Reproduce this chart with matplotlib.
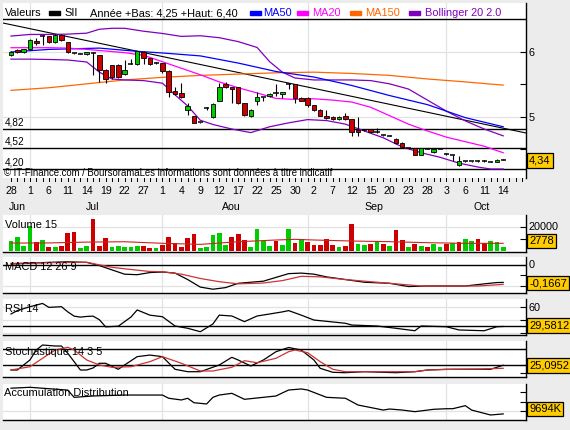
import numpy as np
import pandas as pd
import matplotlib
matplotlib.use("Agg")
import matplotlib.pyplot as plt
from matplotlib.patches import Rectangle
from matplotlib.transforms import IdentityTransform, blended_transform_factory

plt.rcParams['font.family'] = ['Liberation Sans', 'DejaVu Sans']

# ---------------- data ----------------
dates = pd.bdate_range('2011-06-28', '2011-10-14')

opn = [5.95, 6.03, 6.00, 6.04, 6.17, 6.25, 6.245, 6.15, 6.26, 6.15,
       5.98, 5.975, 5.965, 5.98, 5.95, 5.73, 5.795, 5.795, 5.66, 5.81,
       5.81, 6.005, 5.90, 5.83, 5.825, 5.71, 5.40, 5.37, 5.10, 5.015,
       4.92, 5.14, 5.005, 5.25, 5.51, 5.455, 5.455, 5.21, 5.015, 5.24,
       5.30, 5.32, 5.365, 5.35, 5.51, 5.50, 5.29, 5.29, 5.185, 5.11,
       5.015, 5.005, 4.965, 5.015, 4.965, 4.80, 4.80, 4.815, 4.765, 4.72,
       4.71, 4.66, 4.605, 4.52, 4.52, 4.415, 4.505, 4.455, 4.505, 4.43,
       4.415, 4.26, 4.32, 4.32, 4.32, 4.32, 4.31, 4.31, 4.345]
high = [6.01, 6.04, 6.05, 6.20, 6.21, 6.26, 6.25, 6.27, 6.27, 6.15,
        5.99, 5.98, 6.00, 6.00, 5.96, 5.74, 5.80, 5.82, 5.88, 5.89,
        6.02, 6.01, 5.91, 5.84, 5.83, 5.72, 5.46, 5.52, 5.21, 5.02,
        4.93, 5.15, 5.21, 5.52, 5.54, 5.46, 5.46, 5.22, 5.12, 5.39,
        5.31, 5.37, 5.50, 5.39, 5.52, 5.51, 5.30, 5.30, 5.19, 5.12,
        5.11, 5.01, 5.01, 5.06, 4.97, 4.995, 4.81, 4.82, 4.83, 4.73,
        4.72, 4.67, 4.61, 4.53, 4.53, 4.53, 4.51, 4.51, 4.51, 4.45,
        4.42, 4.40, 4.33, 4.33, 4.34, 4.34, 4.32, 4.35, 4.36]
low = [5.94, 5.98, 5.99, 6.03, 6.11, 6.11, 6.14, 6.14, 6.17, 5.99,
       5.97, 5.965, 5.96, 5.64, 5.54, 5.52, 5.59, 5.60, 5.65, 5.81,
       5.80, 5.81, 5.80, 5.82, 5.68, 5.31, 5.34, 5.29, 5.03, 4.90,
       4.91, 5.10, 4.98, 5.24, 5.44, 5.215, 5.20, 5.02, 5.00, 5.185,
       5.25, 5.31, 5.32, 5.29, 5.43, 5.22, 5.24, 5.16, 5.09, 5.01,
       4.97, 4.96, 4.96, 4.96, 4.71, 4.71, 4.78, 4.76, 4.76, 4.71,
       4.70, 4.59, 4.53, 4.51, 4.41, 4.41, 4.50, 4.45, 4.50, 4.42,
       4.33, 4.25, 4.31, 4.31, 4.30, 4.30, 4.30, 4.30, 4.34]
close = [6.00, 6.00, 6.04, 6.18, 6.14, 6.25, 6.15, 6.26, 6.185, 5.995,
         5.98, 5.97, 5.995, 5.98, 5.73, 5.59, 5.61, 5.61, 5.73, 5.81,
         6.015, 5.90, 5.81, 5.83, 5.70, 5.39, 5.35, 5.30, 5.17, 4.90,
         4.92, 5.14, 5.20, 5.455, 5.455, 5.425, 5.21, 5.03, 5.11, 5.30,
         5.30, 5.36, 5.365, 5.38, 5.51, 5.29, 5.25, 5.185, 5.10, 5.015,
         4.98, 4.965, 5.005, 4.965, 4.765, 4.765, 4.79, 4.765, 4.765, 4.72,
         4.71, 4.605, 4.545, 4.52, 4.415, 4.52, 4.505, 4.505, 4.505, 4.43,
         4.415, 4.32, 4.32, 4.32, 4.32, 4.32, 4.31, 4.34, 4.34]

# moving averages / bands read at sample positions (trading-day index)
ma150_i = [0, 6, 12, 18, 24, 30, 36, 42, 48, 54, 60, 66, 72, 78]
ma150_v = [5.41, 5.45, 5.51, 5.57, 5.61, 5.64, 5.66, 5.68, 5.69, 5.67, 5.64, 5.585, 5.54, 5.49]
ma50_i = [0, 6, 12, 14, 20, 24, 30, 36, 42, 48, 54, 60, 66, 72, 78]
ma50_v = [6.00, 6.04, 6.055, 6.06, 6.01, 5.985, 5.94, 5.83, 5.70, 5.615, 5.485, 5.33, 5.19, 4.99, 4.85]
ma20_i = [0, 3, 6, 9, 12, 15, 18, 21, 24, 27, 30, 33, 36, 39, 42, 45, 48, 51, 54,
          57, 60, 63, 66, 69, 72, 75, 78]
ma20_v = [6.066, 6.066, 6.066, 6.06, 6.04, 6.015, 5.99, 5.95, 5.85, 5.75, 5.65, 5.54, 5.45,
          5.37, 5.285, 5.27, 5.28, 5.26, 5.23, 5.15, 5.02, 4.89, 4.785, 4.69, 4.62, 4.55, 4.45]
bb_up_i = [0, 3, 6, 9, 12, 14, 16, 18, 21, 24, 27, 30, 33, 36, 39, 41, 43, 45, 48,
           51, 54, 57, 60, 63, 66, 69, 72, 75, 78]
bb_up_v = [6.245, 6.27, 6.27, 6.275, 6.29, 6.35, 6.365, 6.365, 6.32, 6.285, 6.24, 6.25,
           6.22, 6.16, 6.07, 5.85, 5.69, 5.60, 5.57, 5.57, 5.57, 5.56, 5.51, 5.43, 5.26,
           5.09, 4.94, 4.815, 4.71]
bb_lo_i = [0, 3, 6, 9, 12, 14, 16, 18, 21, 24, 26, 28, 30, 32, 35, 38, 41, 44, 47,
           50, 53, 56, 59, 62, 65, 68, 71, 74, 76, 78]
bb_lo_v = [5.89, 5.89, 5.885, 5.877, 5.846, 5.69, 5.585, 5.57, 5.56, 5.52, 5.34, 5.17,
           4.95, 4.885, 4.815, 4.76, 4.85, 4.91, 4.96, 4.945, 4.89, 4.785, 4.68, 4.54,
           4.45, 4.38, 4.29, 4.23, 4.20, 4.20]
trend_i = [-1.27, 81.62]
trend_v = [6.446, 4.754]
levels = [4.82, 4.52, 4.20]
level_labels = ['4,82', '4,52', '4,20']

vol_k = [7.9, 11.5, 3.75, 20.7, 7.36, 8.75, 3.19, 3.19, 4.03, 14.86,
         15.4, 2.36, 3.75, 26.25, 3.75, 10.42, 2.92, 3.75, 2.92, 2.92,
         3.75, 3.75, 2.08, 2.08, 4.58, 11.5, 6.0, 3.19, 10.42, 13.75,
         2.08, 2.92, 12.9, 14.6, 4.58, 11.25, 13.75, 8.75, 3.19, 17.9,
         8.19, 3.75, 8.19, 4.58, 17.9, 6.53, 9.3, 7.36, 4.86, 4.86,
         9.58, 4.86, 2.92, 3.75, 22.1, 5.69, 4.86, 5.69, 7.92, 5.69,
         3.75, 17.1, 8.75, 2.92, 5.69, 3.75, 2.92, 5.69, 2.92, 5.14,
         6.25, 7.08, 9.58, 7.92, 9.58, 6.25, 7.92, 7.08, 2.778]
vol_up = "gggg rgrgrrrggrrrgggggrrgrrrrrrgggggrrrggggrgg rgrrrrrgrrggrgrgrrgrgrggrgrggrrggg".replace(" ", "")
volma_i = [0, 6, 12, 18, 24, 30, 36, 42, 45, 48, 54, 60, 66, 72, 78]
volma_k = [6.2, 6.3, 7.0, 7.3, 6.0, 5.1, 7.3, 8.75, 9.3, 8.75, 7.9, 7.36, 6.5, 5.97, 5.97]

macd_i = [0, 4, 6, 9, 12, 14, 16, 18, 20, 22, 24, 26, 28, 30, 32, 34, 36, 38, 40, 42,
          44, 46, 48, 50, 53, 56, 60, 63, 66, 69, 72, 75, 77, 78]
macd_v = [0.005, 0.015, 0.02, 0.025, 0.02, -0.01, -0.05, -0.09, -0.095, -0.075, -0.07,
          -0.08, -0.14, -0.21, -0.23, -0.215, -0.175, -0.165, -0.155, -0.12, -0.085,
          -0.08, -0.09, -0.115, -0.14, -0.165, -0.175, -0.205, -0.2, -0.2, -0.2, -0.18,
          -0.168, -0.1667]
sig_i = [0, 6, 12, 16, 18, 22, 24, 27, 30, 33, 36, 40, 43, 46, 49, 53, 57, 61, 65, 70, 74, 78]
sig_v = [0.01, 0.017, 0.02, -0.026, -0.04, -0.065, -0.067, -0.09, -0.13, -0.16, -0.18,
         -0.172, -0.15, -0.11, -0.115, -0.14, -0.16, -0.18, -0.2, -0.2, -0.2, -0.185]

rsi_i = [0, 1, 3, 5, 6, 8, 9, 10, 11, 12, 13, 14, 15, 17, 19, 20, 22, 24, 26, 28, 30,
         32, 33, 35, 37, 39, 41, 43, 44, 46, 48, 53, 54, 58, 61, 64, 65, 69, 71, 75, 77, 78]
rsi_v = [48.8, 54, 60, 65, 59, 60, 52, 45.5, 44, 45, 45.5, 40, 29, 30, 44, 55, 47, 44.6,
         30.3, 26.8, 21.5, 33.4, 47, 45.7, 37, 45.7, 48.8, 52, 54, 47, 39.5, 34.5, 31.8,
         30.3, 26.8, 23, 30.3, 29.2, 24.2, 23, 29.2, 29.58]

stk_i = [0, 1, 3, 4, 5, 7, 8, 9, 11, 12, 13, 14, 15, 17, 18, 20, 22, 24, 26, 28, 30,
         33, 35, 36, 38, 40, 42, 44, 46, 48, 49, 51, 53, 56, 61, 64, 66, 69, 74, 76, 78]
stk_v = [10.3, 10.3, 41.6, 72.8, 88.4, 85.3, 85.3, 62.5, 10.3, 10.3, 16.6, 31.3, 31.3,
         12.5, 26, 52, 57, 52, 12.5, 5, 5, 26, 50, 41.6, 22.8, 41.6, 67.5, 80.6, 72.8,
         41.6, 15.6, 3.1, 1.9, 5, 1.9, 5, 10.3, 12.5, 12.5, 12.5, 25.1]
std_i = [0, 3, 5, 7, 9, 10, 12, 14, 16, 19, 22, 24, 27, 30, 32, 35, 37, 39, 42, 44, 45,
         47, 49, 51, 53, 58, 64, 66, 70, 74, 78]
std_v = [10.3, 20.6, 46.9, 72.8, 81.3, 72.8, 41.6, 26, 18.8, 20.6, 36.3, 52, 31.3, 7.2,
         7.2, 18.8, 39.4, 33, 46.9, 67.5, 72.8, 64.4, 36.3, 12.5, 5, 5, 5, 10.3, 12.5,
         13.4, 15.6]

ad_i = [0, 3, 9, 10, 13, 18, 24, 25, 27, 28, 29, 31, 32, 33, 35, 37, 40, 42, 43, 44,
        46, 47, 50, 53, 55, 59, 60, 62, 64, 67, 69, 70, 72, 73, 76, 78]
ad_k = [12400, 12495, 12200, 11440, 11580, 11680, 11680, 11340, 11160, 11340, 10870,
        10740, 11440, 11680, 11860, 11230, 11440, 11580, 11900, 12210, 12320, 12210,
        11440, 11340, 10630, 10100, 10210, 10100, 9930, 10180, 10240, 10240, 10560,
        10100, 9580, 9694]

# ---------------- layout ----------------
W, H = 570, 430
fig = plt.figure(figsize=(W / 100, H / 100), dpi=100)
fig.patch.set_facecolor('#ececec')
ID = IdentityTransform()

XL, XR = 3, 526
def px_axes(y0, y1, x0=XL, x1=XR):
    return fig.add_axes([x0 / W, 1 - y1 / H, (x1 - x0) / W, (y1 - y0) / H])

xlim = ((XL - 11) / 6.31, (XR - 11) / 6.31)
n = len(dates)
idx = np.arange(n)
GRID = '#e2e2e2'
month_start = [i for i in range(1, n) if dates[i].month != dates[i - 1].month]

def style(ax, ylim):
    ax.set_xlim(*xlim)
    ax.set_ylim(*ylim)
    ax.set_facecolor('white')
    for s in ['left', 'top']:
        ax.spines[s].set_visible(False)
    ax.spines['right'].set_linewidth(1.0)
    ax.spines['bottom'].set_linewidth(1.0)
    ax.yaxis.tick_right()
    ax.tick_params(axis='y', direction='in', length=4, width=0.8, pad=2, labelsize=7.8)
    ax.set_xticks([])
    for m in month_start:
        ax.axvline(m, color=GRID, lw=0.9, zorder=0)

def fpx(x, y, s, **kw):
    fig.text(x / W, 1 - y / H, s, **kw)

def vbox(x, y, s):
    fpx(x, y, s, fontsize=8, va='center', ha='left',
        bbox=dict(boxstyle='square,pad=0.22', fc='#ffcc00', ec='black', lw=0.9), zorder=10)

# ---- main price panel ----
ax = px_axes(3, 178)
pmin, pmax = 5 - (178 - 117) / 65, 5 + (117 - 3) / 65
style(ax, (pmin, pmax))
ax.spines['bottom'].set_visible(False)
ax.set_yticks([4.5, 5, 5.5, 6])
ax.set_yticklabels(['', '5', '', '6'])
for g in [5, 6]:
    ax.axhline(g, color=GRID, lw=0.9, zorder=0)
ax.axhline(5 + (117 - 19.5) / 65, color='black', lw=1.0)
for lv in levels:
    ax.axhline(lv, color='black', lw=1.0, zorder=2)

ax.plot(trend_i, trend_v, color='black', lw=0.8, zorder=2)
ax.plot(ma150_i, ma150_v, color='#ff6600', lw=0.9, zorder=2)
ax.plot(bb_up_i, bb_up_v, color='#8000c0', lw=0.9, zorder=2)
ax.plot(bb_lo_i, bb_lo_v, color='#8000c0', lw=0.9, zorder=2)
ax.plot(ma50_i, ma50_v, color='#0000ff', lw=0.9, zorder=2)
ax.plot(ma20_i, ma20_v, color='#ff00ff', lw=0.9, zorder=2)

for i, (o, h, l, c) in enumerate(zip(opn, high, low, close)):
    ax.vlines(i, l, h, color='black', lw=0.8, zorder=3)
    if abs(c - o) < 0.012:
        ax.hlines((o + c) / 2, i - 0.4, i + 0.4, color='black', lw=1.1, zorder=4)
    else:
        col = '#00cc00' if c > o else '#cc0000'
        ax.add_patch(Rectangle((i - 0.36, min(o, c)), 0.72, abs(c - o), fc=col,
                               ec='black', lw=0.6, zorder=4))

# bottom per-day ticks
tr = blended_transform_factory(ax.transData, ID)
for i in range(0, 82):
    ax.plot([i, i], [H - 178, H - 180.5], color='black', lw=0.7, transform=tr, clip_on=False)

# header
hy = 13
HF = 7.9
fpx(5, hy, 'Valeurs', fontsize=HF, va='center')
def legrect(x, col):
    fig.add_artist(Rectangle((x, H - hy - 2), 11, 4, color=col, transform=ID))
legrect(49, 'black'); fpx(64, hy, 'SII', fontsize=HF, va='center')
fpx(90, hy, 'Année +Bas: 4,25 +Haut: 6,40', fontsize=HF, va='center')
legrect(250, '#0000ff'); fpx(263, hy, 'MA50', fontsize=HF, va='center', color='#0000ff')
legrect(297, '#ff00ff'); fpx(312, hy, 'MA20', fontsize=HF, va='center', color='#ff00ff')
legrect(350, '#ff6600'); fpx(365, hy, 'MA150', fontsize=HF, va='center', color='#ff6600')
legrect(409, '#8000c0'); fpx(425, hy, 'Bollinger 20 2.0', fontsize=HF, va='center', color='#8000c0')

for lv, lab in zip(levels, level_labels):
    yy = 117 + (5 - lv) * 65
    fpx(5, yy - 6.5, lab, fontsize=7.2, va='center')
fpx(4, 173, '© IT-Finance.com / BoursoramaLes informations sont données à titre indicatif',
    fontsize=6.9, va='center')
vbox(529, 160.5, '4,34')

# dates and months
for i in range(0, n, 3):
    x = 11 + 6.31 * i
    fpx(x, 191, str(dates[i].day), fontsize=7.6, ha='center', va='center')
month_names = {6: 'Jun', 7: 'Jul', 8: 'Aou', 9: 'Sep', 10: 'Oct'}
for m, name in month_names.items():
    ii = [i for i in range(n) if dates[i].month == m]
    c = np.mean(ii) if m != 10 else (ii[0] + xlim[1]) / 2 - 0.8
    fpx(11 + 6.31 * c, 207, name, fontsize=7.6, ha='center', va='center')

# ---- volume panel ----
axv = px_axes(215, 251.5)
style(axv, ((250.5 - 251.5) / 1.2 * 1000, (250.5 - 215) / 1.2 * 1000))
axv.set_yticks([10000, 20000])
axv.set_yticklabels(['', '20000'])
axv.axhline(20000, color=GRID, lw=0.9, zorder=0)
vols = np.array(vol_k) * 1000
cols = ['#00cc00' if u == 'g' else '#cc0000' for u in vol_up]
axv.bar(idx, vols, width=0.75, color=cols, zorder=2)
axv.plot(volma_i, np.array(volma_k) * 1000, color='#cc2222', lw=0.8, zorder=3)
fpx(5, 225, 'Volume 15', fontsize=HF, va='center')
vbox(529, 241, '2778')

# ---- MACD panel ----
axm = px_axes(256.5, 293)
k = 107.5
style(axm, (-(293 - 264.5) / k, (264.5 - 256.5) / k))
axm.set_yticks([-0.2, -0.1, 0])
axm.set_yticklabels(['', '', '0'])
axm.axhline(0, color='black', lw=1.0, zorder=1)
axm.axhline(-0.2, color=GRID, lw=0.9, zorder=0)
axm.plot(macd_i, macd_v, color='black', lw=0.9, zorder=3)
axm.plot(sig_i, sig_v, color='#cc3333', lw=0.9, zorder=3)
fpx(5, 267, 'MACD 12 26 9', fontsize=HF, va='center')
vbox(529, 283, '-0,1667')

# ---- RSI panel ----
axr = px_axes(299, 335.3)
style(axr, (20 - (335.3 - 332.7) / 0.65, 20 + (332.7 - 299) / 0.65))
axr.set_yticks([20, 40, 60])
axr.set_yticklabels(['', '', '60'])
for g in [20, 40, 60]:
    axr.axhline(g, color=GRID, lw=0.9, zorder=0)
axr.axhline(30, color='black', lw=1.0, zorder=1)
axr.plot(rsi_i, rsi_v, color='black', lw=0.9, zorder=3)
fpx(5, 309, 'RSI 14', fontsize=HF, va='center')
vbox(529, 325.5, '29,5812')

# ---- Stochastic panel ----
axs = px_axes(341.3, 377.3)
style(axs, (-(377.3 - 373.3) / 0.32, (373.3 - 341.3) / 0.32))
axs.set_yticks([0, 25, 75])
axs.set_yticklabels(['', '', ''])
for g in [25, 75]:
    axs.axhline(g, color='black', lw=1.0, zorder=1)
axs.plot(stk_i, stk_v, color='black', lw=0.9, zorder=3)
axs.plot(std_i, std_v, color='#cc3333', lw=0.9, zorder=3)
fpx(5, 352, 'Stochastique 14 3 5', fontsize=HF, va='center')
vbox(529, 365.5, '25,0952')

# ---- A/D panel ----
axa = px_axes(383.5, 419.5)
kk = 9.5 / 1000
style(axa, (10000 - (419.5 - 411) / kk, 10000 + (411 - 383.5) / kk))
axa.set_yticks([10000, 11000, 12000])
axa.set_yticklabels(['', '', ''])
axa.axhline(10000, color=GRID, lw=0.9, zorder=0)
axa.plot(ad_i, ad_k, color='black', lw=0.9, zorder=3)
fpx(4, 393, 'Accumulation Distribution', fontsize=HF, va='center')
vbox(529, 409, '9694K')

fig.savefig('out.png', dpi=100, facecolor=fig.get_facecolor())
